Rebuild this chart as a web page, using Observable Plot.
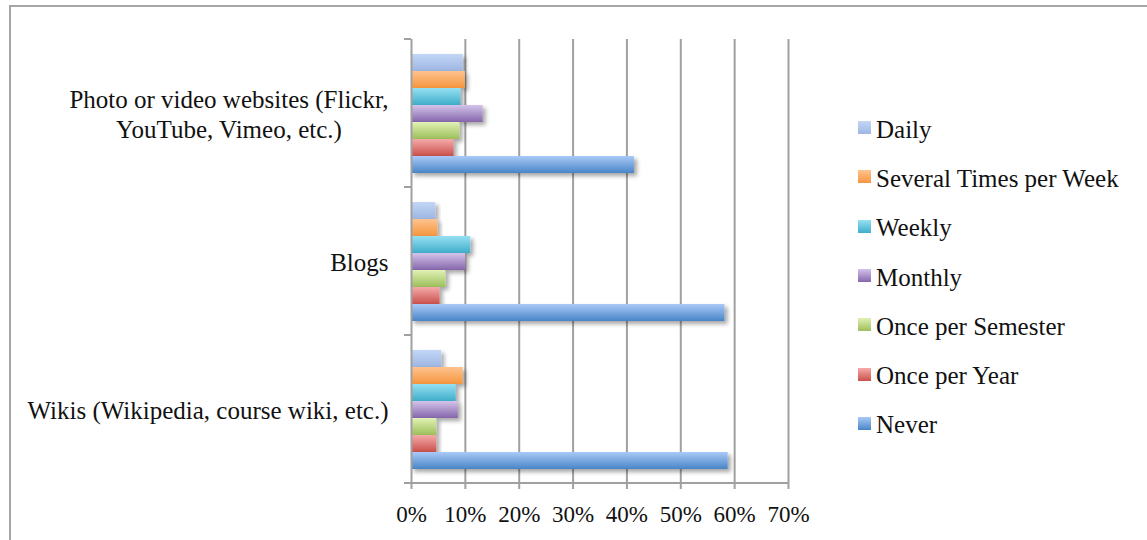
<!DOCTYPE html>
<html>
<head>
<meta charset="utf-8">
<script src="https://cdn.jsdelivr.net/npm/d3@7"></script>
<script src="https://cdn.jsdelivr.net/npm/@observablehq/plot@0.6"></script>
<style>
  html, body { margin: 0; padding: 0; background: #fff; }
  #wrap { position: relative; width: 1147px; height: 540px; overflow: hidden; font-family: "Liberation Serif", serif; }
  #frame { position: absolute; left: 9px; top: 5px; width: 1200px; height: 600px; border-left: 2px solid #a6a6a6; border-top: 2px solid #a6a6a6; }
  #chart { position: absolute; left: 0; top: 0; }
  #legend { position: absolute; left: 858px; top: 105px; }
  .item { display: flex; align-items: center; height: 49.3px; font-size: 25px; color: #111; white-space: nowrap; }
  .sw { width: 13px; height: 13px; margin-right: 5px; margin-top: -4px; }
</style>
</head>
<body>
<div id="wrap">
  <div id="frame"></div>
  <div id="chart"></div>
  <div id="legend"></div>
</div>
<script>
// ---- data ----
const categories = ["Photo or video websites (Flickr,\nYouTube, Vimeo, etc.)", "Blogs", "Wikis (Wikipedia, course wiki, etc.)"];
const series = ["Daily", "Several Times per Week", "Weekly", "Monthly", "Once per Semester", "Once per Year", "Never"];
const photoValues = [9.6, 10.0, 9.2, 13.3, 9.0, 7.9, 41.4];
const blogValues  = [4.5, 4.9, 11.0, 10.1, 6.4, 5.3, 58.2];
const wikiValues  = [5.6, 9.6, 8.3, 8.7, 4.7, 4.7, 58.8];
const xTicks = [0, 10, 20, 30, 40, 50, 60, 70];
const colorTop    = ["#c3d6f6", "#fec38e", "#96e0f3", "#d3c4ea", "#e0f1b4", "#f5abaa", "#aacaf8"];
const colorBottom = ["#9db6e2", "#f5963f", "#3fadc9", "#8566ab", "#9dbf5b", "#c9504c", "#4885c6"];

const valuesByCategory = [photoValues, blogValues, wikiValues];
const rows = [];
categories.forEach((c, i) => series.forEach((s, j) => rows.push({category: c, series: s, value: valuesByCategory[i][j]})));

const plot = Plot.plot({
  width: 1147,
  height: 540,
  marginLeft: 411,
  marginRight: 359,
  marginTop: 39,
  marginBottom: 57,
  style: {fontFamily: "'Liberation Serif', serif", fontSize: "25px", color: "#111", background: "transparent", overflow: "visible"},
  x: {domain: [0, 70], axis: null},
  y: {domain: series, paddingInner: 0, paddingOuter: 0.7, axis: null},
  fy: {domain: categories, padding: 0, axis: null},
  marks: [
    Plot.ruleX(xTicks.slice(1), {x: d => d, stroke: "#a0a0a0", strokeWidth: 2}),
    ...series.map((s, j) => Plot.barX(rows.filter(r => r.series === s), {
      x: "value", y: "series", fy: "category", fill: `url(#grad${j})`
    })),
    Plot.ruleX([0], {stroke: "#a0a0a0", strokeWidth: 2}),
    Plot.axisX(xTicks, {label: null, tickFormat: d => d + "%", tickSize: 6, tickPadding: 16, stroke: "#a0a0a0", strokeWidth: 2, fontSize: 23, fill: "#111"}),
    Plot.axisFy({anchor: "left", label: null, tickSize: 0, tickPadding: 23, textAnchor: "end", lineHeight: 1.2, fontSize: 25, fill: "#111"})
  ]
});
document.getElementById("chart").appendChild(plot);

// gradients and shadow
const svg = d3.select(plot);
const defs = svg.insert("defs", ":first-child");
series.forEach((s, j) => {
  const g = defs.append("linearGradient").attr("id", `grad${j}`).attr("x1", 0).attr("y1", 0).attr("x2", 0).attr("y2", 1);
  g.append("stop").attr("offset", "0%").attr("stop-color", colorTop[j]);
  g.append("stop").attr("offset", "100%").attr("stop-color", colorBottom[j]);
});
const f = defs.append("filter").attr("id", "shadow").attr("x", "-10%").attr("y", "-30%").attr("width", "130%").attr("height", "200%");
f.append("feDropShadow").attr("dx", 3).attr("dy", 3).attr("stdDeviation", 2).attr("flood-color", "#000").attr("flood-opacity", 0.35);
svg.selectAll("g[aria-label='bar'] rect").attr("filter", "url(#shadow)");

// axis lines and category-boundary ticks using the library's scales
const xs = plot.scale("x"), fys = plot.scale("fy");
const x0 = xs.apply(0), x70 = xs.apply(70);
const bounds = categories.map(c => fys.apply(c)).concat([fys.apply(categories[categories.length - 1]) + fys.bandwidth]);
const axisG = svg.append("g").attr("stroke", "#a0a0a0").attr("stroke-width", 2);
bounds.forEach(b => axisG.append("line").attr("x1", x0 - 7).attr("x2", x0).attr("y1", b).attr("y2", b));
const yBottom = bounds[bounds.length - 1];
axisG.append("line").attr("x1", x0 - 7).attr("x2", x70).attr("y1", yBottom).attr("y2", yBottom);

// center the lines of multi-line category labels within their block
svg.selectAll("g[aria-label='fy-axis tick label'] text").each(function() {
  const bb = this.getBBox();
  const t = this.getAttribute("transform") || "";
  this.setAttribute("text-anchor", "middle");
  this.setAttribute("transform", t + ` translate(${-bb.width / 2},0)`);
});

// legend
const legend = d3.select("#legend");
series.forEach((s, j) => {
  const it = legend.append("div").attr("class", "item");
  it.append("div").attr("class", "sw").style("background", `linear-gradient(${colorTop[j]}, ${colorBottom[j]})`);
  it.append("span").text(s);
});
</script>
</body>
</html>
